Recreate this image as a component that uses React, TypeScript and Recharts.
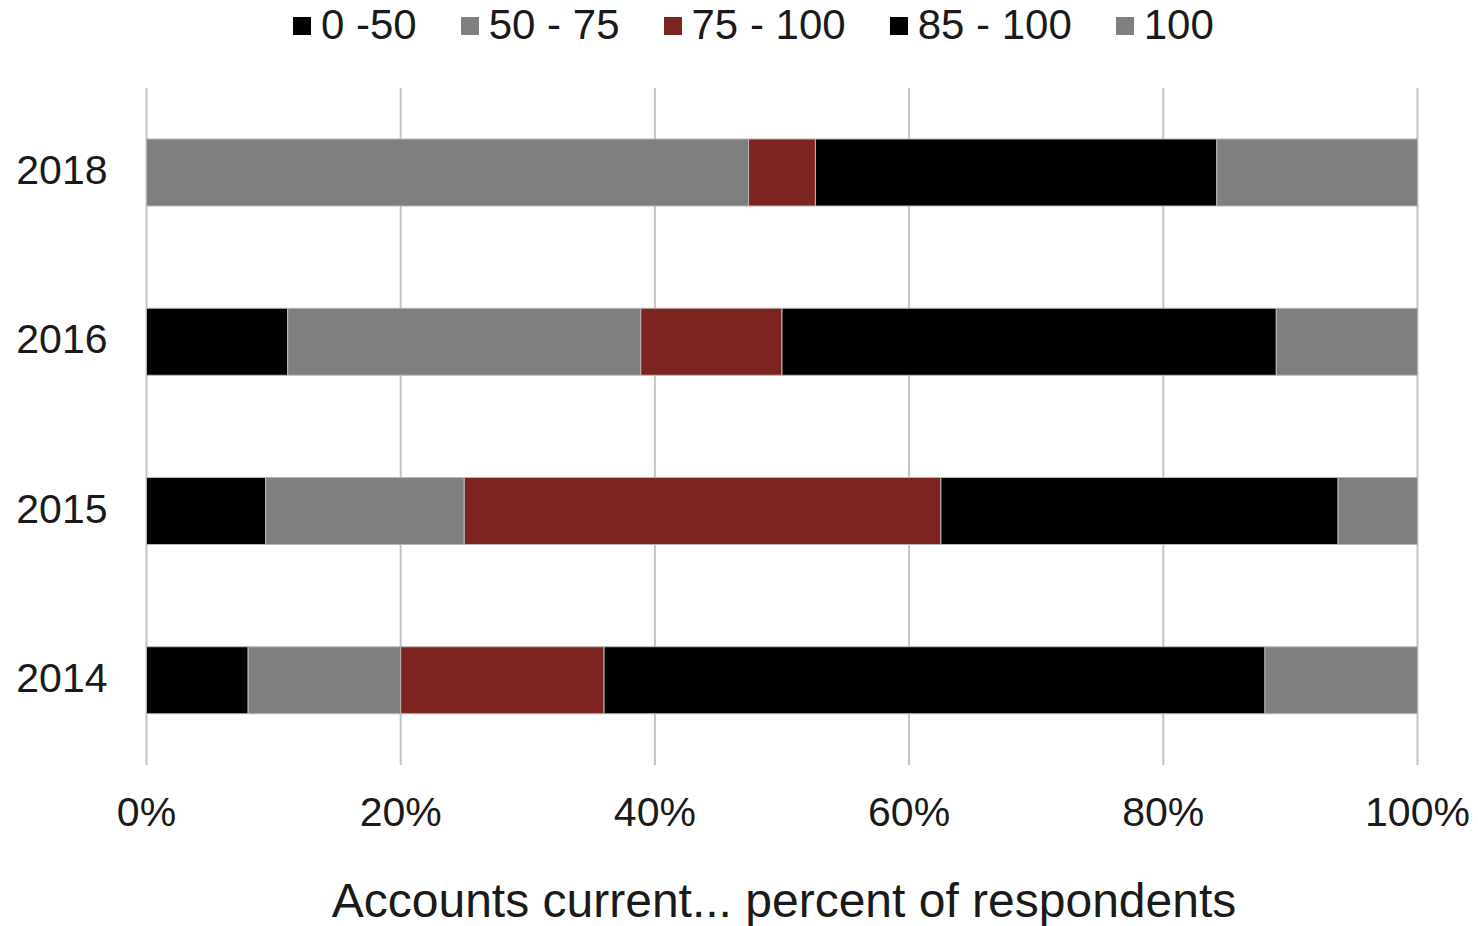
import React from 'react';
import { BarChart, Bar, XAxis, YAxis, CartesianGrid, Legend, Label } from 'recharts';

const years = ['2018', '2016', '2015', '2014'];
const s0_50 = [0, 11.11, 9.375, 8];
const s50_75 = [47.37, 27.78, 15.625, 12];
const s75_100 = [5.26, 11.11, 37.5, 16];
const s85_100 = [31.58, 38.89, 31.25, 52];
const s100 = [15.79, 11.11, 6.25, 12];
const seriesNames = ['0 -50', '50 - 75', '75 - 100', '85 - 100', '100'];
const seriesColors = ['#000000', '#7f7f7f', '#7e2420', '#000000', '#7f7f7f'];
const xTicks = [0, 20, 40, 60, 80, 100];
const axisTitle = 'Accounts current... percent of respondents';

const seriesValues = [s0_50, s50_75, s75_100, s85_100, s100];
const data = years.map((y, i) => {
  const row: Record<string, any> = { year: y };
  seriesValues.forEach((arr, k) => {
    row['s' + k] = arr[i];
  });
  return row;
});

const FONT = '"Liberation Sans", Arial, Helvetica, sans-serif';
const TEXT = '#1a1a1a';

const LegendContent = (props: any) => {
  const items = [...(props.payload || [])].sort(
    (a: any, b: any) => seriesNames.indexOf(a.value) - seriesNames.indexOf(b.value)
  );
  return (
    <div
      style={{
        display: 'flex',
        alignItems: 'center',
        height: 50,
        paddingLeft: 293,
        fontFamily: FONT,
        fontSize: 42,
        color: TEXT,
        whiteSpace: 'nowrap',
      }}
    >
      {items.map((it: any, i: number) => (
        <div key={i} style={{ display: 'flex', alignItems: 'center', marginRight: 44 }}>
          <span
            style={{
              display: 'inline-block',
              width: 18,
              height: 18,
              background: it.color,
              marginRight: 10,
              marginTop: 2,
            }}
          />
          <span style={{ lineHeight: '50px' }}>{it.value}</span>
        </div>
      ))}
    </div>
  );
};

export default function App() {
  return (
    <div style={{ position: 'absolute', left: 0, top: 0, width: 1478, height: 926, background: '#fff' }}>
      <BarChart
        width={1478}
        height={926}
        data={data}
        layout="vertical"
        margin={{ top: 38, right: 60.5, bottom: 0, left: 0 }}
        barSize={67}
      >
        <CartesianGrid horizontal={false} vertical={true} stroke="#c4c4c4" strokeWidth={2} />
        <XAxis
          type="number"
          domain={[0, 100]}
          ticks={xTicks}
          tickFormatter={(v: number) => `${v}%`}
          axisLine={false}
          tickLine={false}
          tickSize={0}
          tickMargin={32}
          height={161}
          tick={{ fontFamily: FONT, fontSize: 41, fill: TEXT }}
          interval={0}
        >
          <Label
            value={axisTitle}
            position="insideBottom"
            offset={9}
            dx={2}
            style={{ fontFamily: FONT, fontSize: 48, fill: TEXT }}
          />
        </XAxis>
        <YAxis
          type="category"
          dataKey="year"
          width={146.5}
          axisLine={false}
          tickLine={false}
          tickSize={0}
          tickMargin={39}
          tick={{ fontFamily: FONT, fontSize: 41, fill: TEXT, dy: -3 }}
        />
        <Legend verticalAlign="top" content={<LegendContent />} wrapperStyle={{ top: 0, left: 0, width: 1478 }} />
        {seriesNames.map((name, k) => (
          <Bar
            key={name}
            dataKey={'s' + k}
            name={name}
            stackId="a"
            fill={seriesColors[k]}
            stroke="#b8b8b8"
            strokeWidth={1}
            isAnimationActive={false}
          />
        ))}
      </BarChart>
    </div>
  );
}
